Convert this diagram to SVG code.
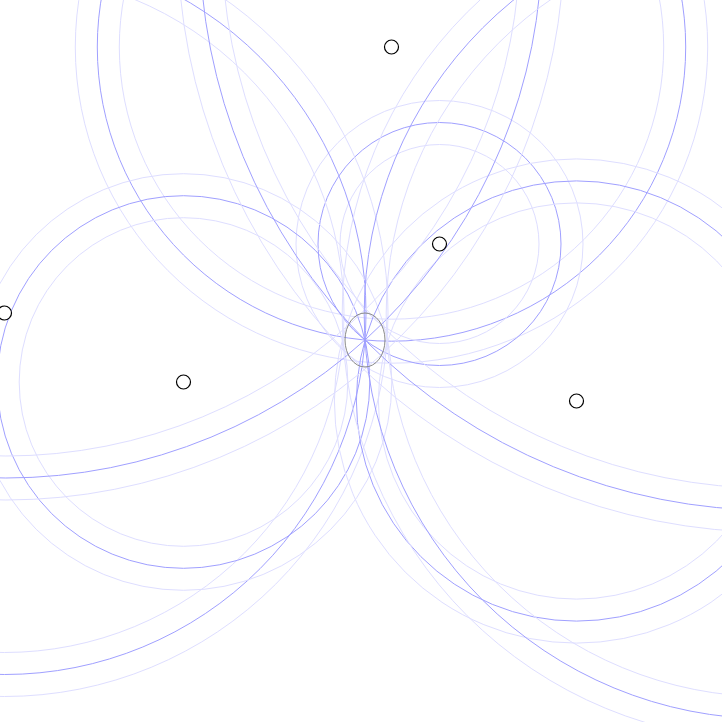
<svg xmlns="http://www.w3.org/2000/svg" width="722" height="722" viewBox="0 0 722 722">
<style>
.s{fill:none;stroke:#a0a0ff;stroke-width:1}
.l{fill:none;stroke:#dedeff;stroke-width:1}
.pt{fill:#fff;stroke:#000;stroke-width:1.2}
.ctr{fill:none;stroke:#888;stroke-width:1}
</style>
<rect width="722" height="722" fill="#fff"/>
<g id="rings">
  <g id="rings-p1"><circle class="l" cx="391.5" cy="47" r="316.2"/><circle class="l" cx="391.5" cy="47" r="272.2"/><circle class="s" cx="391.5" cy="47" r="294.2"/></g>
  <g id="rings-p2"><circle class="l" cx="439.5" cy="244" r="143.5"/><circle class="l" cx="439.5" cy="244" r="99.5"/><circle class="s" cx="439.5" cy="244" r="121.5"/></g>
  <g id="rings-p3"><circle class="l" cx="4.5" cy="313" r="383.5"/><circle class="l" cx="4.5" cy="313" r="339.5"/><circle class="s" cx="4.5" cy="313" r="361.5"/></g>
  <g id="rings-p4"><circle class="l" cx="183.5" cy="382" r="208.3"/><circle class="l" cx="183.5" cy="382" r="164.3"/><circle class="s" cx="183.5" cy="382" r="186.3"/></g>
  <g id="rings-p5"><circle class="l" cx="576.5" cy="401" r="242.1"/><circle class="l" cx="576.5" cy="401" r="198.1"/><circle class="s" cx="576.5" cy="401" r="220.1"/></g>
  <g id="rings-q1"><circle class="l" cx="772.6" cy="-62.8" r="595.1"/><circle class="l" cx="772.6" cy="-62.8" r="551.1"/><circle class="s" cx="772.6" cy="-62.8" r="573.1"/></g>
  <g id="rings-q2"><circle class="l" cx="5.8" cy="-58.3" r="558.3"/><circle class="l" cx="5.8" cy="-58.3" r="514.3"/><circle class="s" cx="5.8" cy="-58.3" r="536.3"/></g>
  <g id="rings-q3"><circle class="l" cx="769" cy="314" r="426.8"/><circle class="l" cx="769" cy="314" r="382.8"/><circle class="s" cx="769" cy="314" r="404.8"/></g>
</g>
<g id="points">
  <g id="p1"><circle class="pt" cx="391.5" cy="47" r="7"/></g>
  <g id="p2"><circle class="pt" cx="439.5" cy="244" r="7"/></g>
  <g id="p3"><circle class="pt" cx="4.5" cy="313" r="7"/></g>
  <g id="p4"><circle class="pt" cx="183.5" cy="382" r="7"/></g>
  <g id="p5"><circle class="pt" cx="576.5" cy="401" r="7"/></g>
</g>
<g id="center"><ellipse class="ctr" cx="365" cy="340" rx="20" ry="27"/></g>
</svg>
